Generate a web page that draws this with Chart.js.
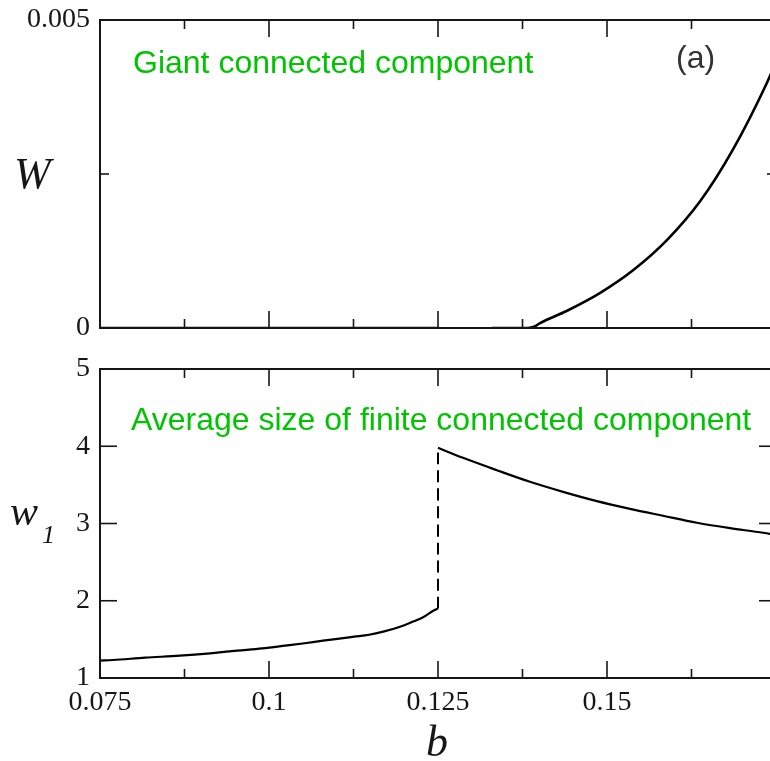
<!DOCTYPE html>
<html>
<head>
<meta charset="utf-8">
<script src="https://cdn.jsdelivr.net/npm/chart.js@4/dist/chart.umd.min.js"></script>
<style>
  html, body { margin: 0; padding: 0; background: #fff; overflow: hidden; }
  #wrap { position: relative; width: 770px; height: 761px; overflow: hidden; }
  #wrap canvas { position: absolute; left: 0; }
</style>
</head>
<body>
<div id="wrap">
  <canvas id="giant" width="780" height="340" style="top:0"></canvas>
  <canvas id="finite" width="780" height="421" style="top:340px"></canvas>
</div>
<script>
// b axis (shared by both panels)
const bMin = 0.075, bMax = 0.175;
const bTickValues = [0.075, 0.1, 0.125, 0.15];
const bTickLabels = ['0.075', '0.1', '0.125', '0.15'];
const bMajorMarks = [0.1, 0.125, 0.15];
const bMinorMarks = [0.0875, 0.1125, 0.1375, 0.1625];

// top panel: giant component W(b)
const wTickValues = [0, 0.005];
const wTickLabels = ['0', '0.005'];
const wMinorMarks = [0.0025];
const bGiant = [0.075, 0.1, 0.125, 0.129, 0.133, 0.1383, 0.1392, 0.1401, 0.1441, 0.149, 0.1539, 0.1589, 0.1638, 0.1686, 0.1737, 0.175];
const wGiant = [0, 0, 0, null, 0, 0, 0.00002, 0.00008, 0.00028, 0.00057, 0.00094, 0.00143, 0.00206, 0.00289, 0.00399, 0.00432];

// bottom panel: average finite component size w1(b)
const w1TickValues = [1, 2, 3, 4, 5];
const w1TickLabels = ['1', '2', '3', '4', '5'];
const w1MajorMarks = [2, 3, 4];
const bLow = [0.075, 0.0769, 0.0817, 0.0868, 0.0913, 0.0953, 0.099, 0.1024, 0.1053, 0.108, 0.1104, 0.1126, 0.1148, 0.1169, 0.1194, 0.1213, 0.1228, 0.1243, 0.125];
const w1Low = [1.225, 1.233, 1.263, 1.289, 1.32, 1.354, 1.384, 1.419, 1.45, 1.483, 1.51, 1.535, 1.56, 1.60, 1.664, 1.73, 1.786, 1.871, 1.90];
const bJump = [0.125, 0.125];
const w1Jump = [1.90, 3.98];
const bHigh = [0.125, 0.1287, 0.1337, 0.1386, 0.1435, 0.1485, 0.1534, 0.1583, 0.1633, 0.1682, 0.1731, 0.175];
const w1High = [3.98, 3.85, 3.69, 3.54, 3.41, 3.29, 3.19, 3.10, 3.01, 2.94, 2.88, 2.85];

const SERIF = "'Liberation Serif', 'DejaVu Serif', serif";
const SANS = "'Liberation Sans', Arial, sans-serif";
const INK = '#161616';

const pts = (xs, ys) => xs.map((x, i) => ({x, y: ys[i]}));

// frame with inward ticks on all four sides, plus free text
const framePlugin = {
  id: 'frame',
  afterDraw(chart, args, o) {
    const {ctx, chartArea: a, scales: {x, y}} = chart;
    const line = (x0, y0, x1, y1) => { ctx.beginPath(); ctx.moveTo(x0, y0); ctx.lineTo(x1, y1); ctx.stroke(); };
    ctx.save();
    ctx.strokeStyle = INK;
    ctx.lineWidth = 2;
    ctx.strokeRect(a.left, a.top, a.right - a.left, a.bottom - a.top);
    ctx.lineWidth = 1.6;
    const xt = (vals, len) => vals.forEach(v => {
      const p = x.getPixelForValue(v);
      line(p, a.bottom, p, a.bottom - len);
      line(p, a.top, p, a.top + len);
    });
    const yt = (vals, len) => vals.forEach(v => {
      const p = y.getPixelForValue(v);
      line(a.left, p, a.left + len, p);
      line(a.right, p, a.right - len, p);
    });
    xt(bMajorMarks, 17);
    xt(bMinorMarks, 9);
    yt(o.yMajor || [], 17);
    yt(o.yMinor || [], 9);
    (o.texts || []).forEach(t => {
      ctx.font = t.font;
      ctx.fillStyle = t.color;
      ctx.textAlign = t.align || 'left';
      ctx.textBaseline = 'alphabetic';
      ctx.fillText(t.text, t.x, t.y);
    });
    ctx.restore();
  }
};

function xScale(showLabels, height) {
  return {
    type: 'linear', min: bMin, max: bMax,
    grid: {display: false, drawTicks: false}, border: {display: false},
    afterBuildTicks: s => { s.ticks = bTickValues.map(v => ({value: v})); },
    ticks: {
      display: showLabels, padding: 8, maxRotation: 0, autoSkip: false,
      color: INK, font: {family: SERIF, size: 28},
      callback: (v, i) => bTickLabels[i]
    },
    afterFit: s => { s.height = height; s.paddingLeft = 0; s.paddingRight = 0; }
  };
}

function yScale(min, max, values, labels) {
  return {
    type: 'linear', min, max,
    grid: {display: false, drawTicks: false}, border: {display: false},
    afterBuildTicks: s => { s.ticks = values.map(v => ({value: v})); },
    ticks: {
      padding: 10, color: INK, font: {family: SERIF, size: 28},
      callback: (v, i) => labels[i]
    },
    // keep the plot box fixed: labels may spill past the top/bottom edge
    afterFit: s => { s.width = 100; s.paddingTop = 0; s.paddingBottom = 0; }
  };
}

const lineStyle = {borderColor: '#000', borderWidth: 2.2, pointRadius: 0, fill: false, tension: 0, cubicInterpolationMode: 'monotone'};

new Chart(document.getElementById('giant'), {
  type: 'line',
  data: {
    datasets: [
      {...lineStyle, label: 'W', data: pts(bGiant, wGiant), spanGaps: false, borderWidth: 2.6}
    ]
  },
  options: {
    responsive: false, animation: false,
    layout: {padding: {top: 20, right: 4, left: 0, bottom: 0}},
    scales: {x: xScale(false, 12), y: yScale(0, 0.005, wTickValues, wTickLabels)},
    plugins: {
      legend: {display: false}, tooltip: {enabled: false},
      frame: {
        yMinor: wMinorMarks,
        texts: [
          {text: 'Giant connected component', x: 133, y: 73, font: `32px ${SANS}`, color: '#00c400'},
          {text: '(a)', x: 676, y: 68, font: `32px ${SANS}`, color: '#333'},
          {text: 'W', x: 14, y: 188, font: `italic 44px ${SERIF}`, color: INK}
        ]
      }
    }
  },
  plugins: [framePlugin]
});

new Chart(document.getElementById('finite'), {
  type: 'line',
  data: {
    datasets: [
      {...lineStyle, label: 'w1 below', data: pts(bLow, w1Low)},
      {...lineStyle, label: 'jump', data: pts(bJump, w1Jump), borderWidth: 2, borderDash: [12, 6]},
      {...lineStyle, label: 'w1 above', data: pts(bHigh, w1High)}
    ]
  },
  options: {
    responsive: false, animation: false,
    layout: {padding: {top: 29, right: 4, left: 0, bottom: 0}},
    scales: {x: xScale(true, 83), y: yScale(1, 5, w1TickValues, w1TickLabels)},
    plugins: {
      legend: {display: false}, tooltip: {enabled: false},
      frame: {
        yMajor: w1MajorMarks,
        texts: [
          {text: 'Average size of finite connected component', x: 131, y: 90, font: `32px ${SANS}`, color: '#00c400'},
          {text: 'w', x: 10, y: 185, font: `italic 42px ${SERIF}`, color: INK},
          {text: '1', x: 42, y: 203, font: `italic 26px ${SERIF}`, color: INK},
          {text: 'b', x: 437, y: 416, font: `italic 44px ${SERIF}`, color: INK, align: 'center'}
        ]
      }
    }
  },
  plugins: [framePlugin]
});
</script>
</body>
</html>
